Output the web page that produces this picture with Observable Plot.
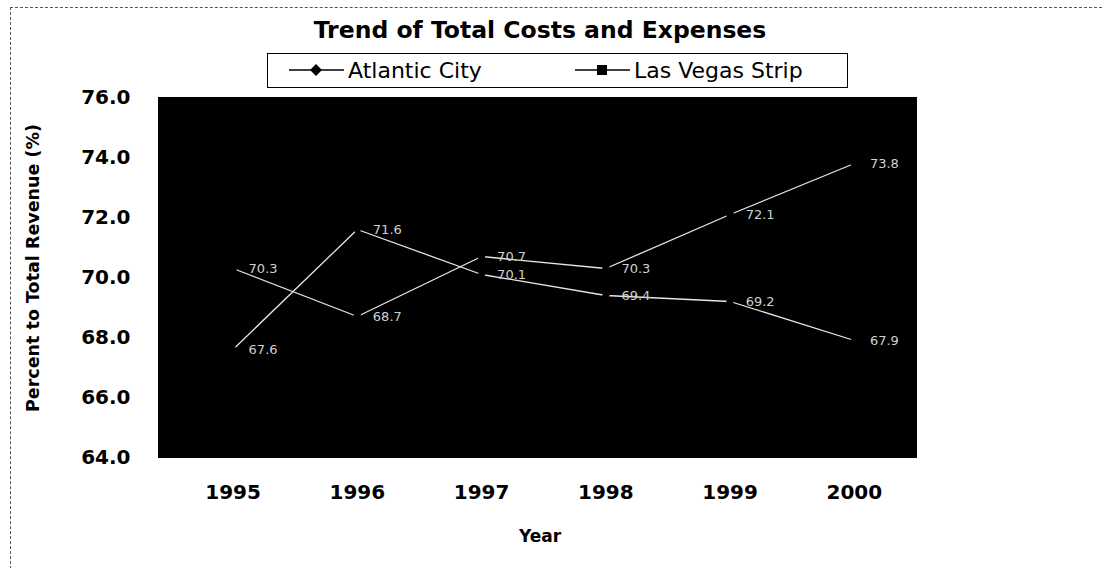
<!DOCTYPE html>
<html><head><meta charset="utf-8">
<script src="https://cdn.jsdelivr.net/npm/d3@7"></script>
<script src="https://cdn.jsdelivr.net/npm/@observablehq/plot@0.6"></script>
<style>
body{margin:0;background:#fff;}
#wrap{position:relative;width:1104px;height:568px;overflow:hidden;font-family:"DejaVu Sans",sans-serif;color:#000;}
#frame{position:absolute;left:10px;top:7px;width:1110px;height:580px;border:1px dashed #555;}
#title{position:absolute;left:0;width:1080px;top:16px;text-align:center;font-weight:bold;font-size:23.5px;white-space:nowrap;}
#legend{position:absolute;left:267px;top:53px;width:581px;height:35px;border:1.5px solid #000;box-sizing:border-box;font-size:22px;white-space:nowrap;}
.item{position:absolute;top:2px;display:flex;align-items:center;height:28px;}
#ylab{position:absolute;left:33px;top:268px;transform:translate(-50%,-50%) rotate(-90deg);font-weight:bold;font-size:17.5px;white-space:nowrap;}
#xlab{position:absolute;left:540px;top:536px;transform:translate(-50%,-50%);font-weight:bold;font-size:17px;}
#chart{position:absolute;left:0;top:80px;}
</style></head>
<body>
<div id="wrap">
  <div id="frame"></div>
  <div id="title">Trend of Total Costs and Expenses</div>
  <div id="legend"></div>
  <div id="ylab">Percent to Total Revenue (%)</div>
  <div id="xlab">Year</div>
  <div id="chart"></div>
</div>
<script>
const years = [1995, 1996, 1997, 1998, 1999, 2000];
const atlanticCity = [67.6, 71.6, 70.1, 69.4, 69.2, 67.9];
const lasVegasStrip = [70.3, 68.7, 70.7, 70.3, 72.1, 73.8];
const seriesNames = ["Atlantic City", "Las Vegas Strip"];
const seriesSymbols = ["diamond", "square"];
const yTicks = [64, 66, 68, 70, 72, 74, 76];

const rows = [];
years.forEach((yr, i) => {
  rows.push({year: yr, value: atlanticCity[i], series: seriesNames[0]});
  rows.push({year: yr, value: lasVegasStrip[i], series: seriesNames[1]});
});

// legend
const legend = document.getElementById("legend");
const legendX = [20, 306];
seriesNames.forEach((name, i) => {
  const div = document.createElement("div");
  div.className = "item";
  div.style.left = legendX[i] + "px";
  const sym = seriesSymbols[i] === "diamond"
    ? '<path d="M28,8 L34,14 L28,20 L22,14 Z" fill="#000"/>'
    : '<rect x="23" y="9" width="10" height="10" fill="#000"/>';
  div.innerHTML = '<svg width="58" height="28"><line x1="1" x2="56" y1="14" y2="14" stroke="#000" stroke-width="1.6"/>' + sym + '</svg><span style="margin-left:2px">' + name + '</span>';
  legend.appendChild(div);
});

const chart = Plot.plot({
  width: 1104,
  height: 488,
  marginTop: 17,
  marginBottom: 111,
  marginLeft: 158,
  marginRight: 188,
  style: {background: "transparent", fontFamily: "DejaVu Sans", fontSize: "20px", color: "#000"},
  x: {type: "linear", domain: [1994.4, 2000.5]},
  y: {domain: [64, 76]},
  marks: [
    Plot.frame({fill: "#000", stroke: "#000"}),
    Plot.line(rows, {x: "year", y: "value", z: "series", stroke: "#e6e6e6", strokeWidth: 1.3}),
    Plot.dot(rows, {x: "year", y: "value", symbol: d => seriesSymbols[seriesNames.indexOf(d.series)], fill: "#000", r: 4}),
    Plot.text(rows, {x: "year", y: "value", text: d => d.value.toFixed(1), dx: 30, fill: "#d0d0d0", fontSize: 13}),
    Plot.axisX({ticks: years, tickFormat: d => String(d), tickSize: 0, tickPadding: 27, label: null, fontSize: 20, fontWeight: "bold"}),
    Plot.axisY({ticks: yTicks, tickFormat: d => d.toFixed(1), tickSize: 0, tickPadding: 28, label: null, fontSize: 20, fontWeight: "bold"})
  ]
});
document.getElementById("chart").appendChild(chart);
</script>
</body></html>
